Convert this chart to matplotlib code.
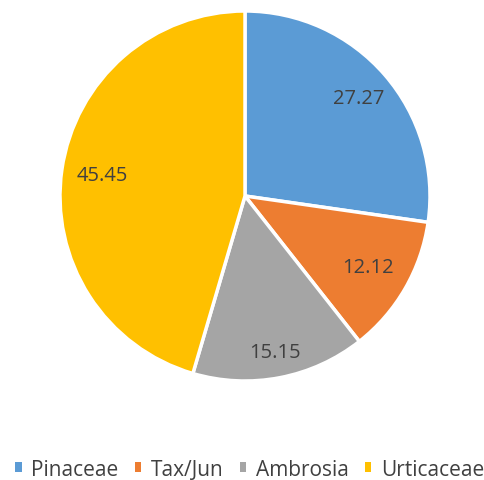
import numpy as np
import matplotlib
matplotlib.use("Agg")
import matplotlib.pyplot as plt
from matplotlib.patches import Patch

families = ["Pinaceae", "Tax/Jun", "Ambrosia", "Urticaceae"]
shares = [27.27, 12.12, 15.15, 45.45]
colors = ["#5B9BD5", "#ED7D31", "#A5A5A5", "#FFC000"]
label_dist = [0.81, 0.77, 0.86, 0.78]

fig = plt.figure(figsize=(4.84, 4.81), dpi=100)
ax = fig.add_axes([(245 - 185) / 484, (481 - 382) / 481, 370 / 484, 370 / 481])

wedges, texts = ax.pie(
    shares,
    colors=colors,
    startangle=90,
    counterclock=False,
    radius=1.0,
    wedgeprops=dict(edgecolor="white", linewidth=2.5, clip_on=False),
)
for w, v, d in zip(wedges, shares, label_dist):
    ang = np.deg2rad((w.theta1 + w.theta2) / 2)
    ax.text(d * np.cos(ang), d * np.sin(ang), f"{v:.2f}",
            ha="center", va="center", fontsize=14.5, color="#404040",
            family="Open Sans")
ax.set_xlim(-1, 1)
ax.set_ylim(-1, 1)
ax.set_aspect("equal")
ax.axis("off")

handles = [Patch(facecolor=c, edgecolor="none") for c in colors]
fig.legend(handles, families, loc="center", bbox_to_anchor=(0.516, 1 - 470 / 481),
           ncol=4, frameon=False, handlelength=0.3, handleheight=0.3,
           handletextpad=0.45, columnspacing=0.8,
           prop=dict(family="Open Sans", size=15), labelcolor="#404040")

fig.savefig("out.png", dpi=100, facecolor="white")
